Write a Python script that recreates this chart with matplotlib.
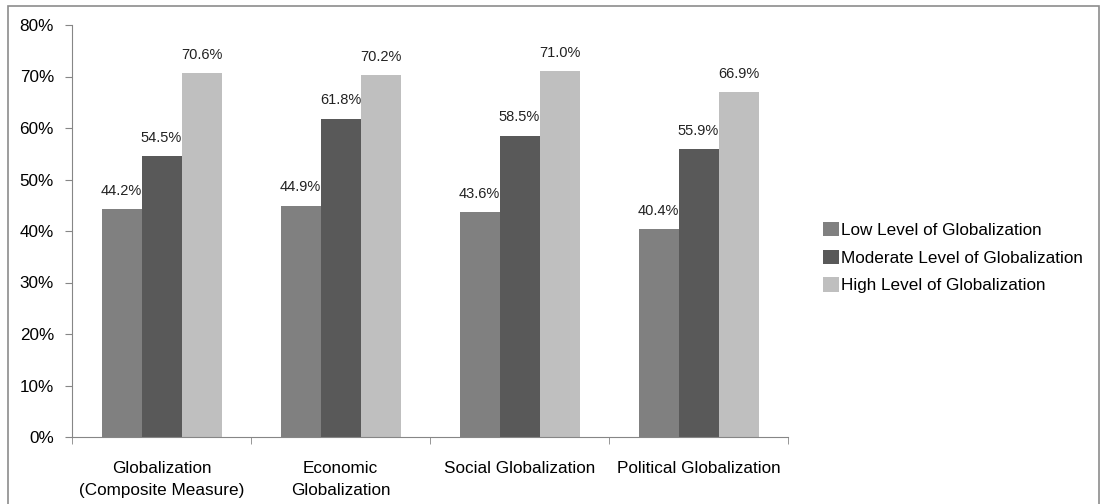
import matplotlib
matplotlib.use("Agg")
import matplotlib.pyplot as plt
import numpy as np
from matplotlib.patches import Rectangle

plt.rcParams['font.family'] = ['Liberation Sans', 'DejaVu Sans']

# data
categories = ["Globalization\n(Composite Measure)", "Economic\nGlobalization",
              "Social Globalization", "Political Globalization"]
series_names = ["Low Level of Globalization", "Moderate Level of Globalization",
                "High Level of Globalization"]
low = [44.2, 44.9, 43.6, 40.4]
moderate = [54.5, 61.8, 58.5, 55.9]
high = [70.6, 70.2, 71.0, 66.9]
colors = ["#808080", "#595959", "#bfbfbf"]

fig = plt.figure(figsize=(11.02, 5.04), dpi=100)
ax = fig.add_axes([72 / 1102, 67 / 504, (788 - 72) / 1102, (437 - 25) / 504])

# outer frame of the chart
fig.patches.append(Rectangle((8 / 1102, -0.02), 1091 / 1102, 1 - 6 / 504 + 0.02,
                             transform=fig.transFigure, fill=False,
                             edgecolor="#8c8c8c", linewidth=1.2))

x = np.arange(len(categories))
w = 40 / 179
for i, (vals, name, c) in enumerate(zip([low, moderate, high], series_names, colors)):
    bars = ax.bar(x + (i - 1) * w, vals, w, color=c, label=name)
    for b, v in zip(bars, vals):
        ax.text(b.get_x() + b.get_width() / 2, v + 2.2, f"{v:.1f}%",
                ha="center", va="bottom", fontsize=10.5, color="#222222")

ax.set_xlim(-0.5, len(categories) - 0.5)
ax.set_ylim(0, 80)
ax.set_yticks(range(0, 81, 10))
ax.set_yticklabels([f"{t}%" for t in range(0, 81, 10)], fontsize=12.3)
ax.set_xticks(x)
ax.set_xticklabels(categories, fontsize=12.3, linespacing=1.6)
ax.tick_params(axis="x", length=0, pad=17)
ax.set_xticks(np.arange(-0.5, len(categories), 1), minor=True)
ax.tick_params(axis="x", which="minor", length=5, color="#868686")
ax.tick_params(axis="y", length=5, color="#868686", pad=8)

for s in ["top", "right"]:
    ax.spines[s].set_visible(False)
for s in ["left", "bottom"]:
    ax.spines[s].set_color("#868686")

ax.legend(loc="center left", bbox_to_anchor=(1.04, 0.435), frameon=False,
          fontsize=12.3, handlelength=0.9, handleheight=0.9, handletextpad=0.15,
          labelspacing=0.68, borderaxespad=0)

fig.savefig("out.png", dpi=100)
